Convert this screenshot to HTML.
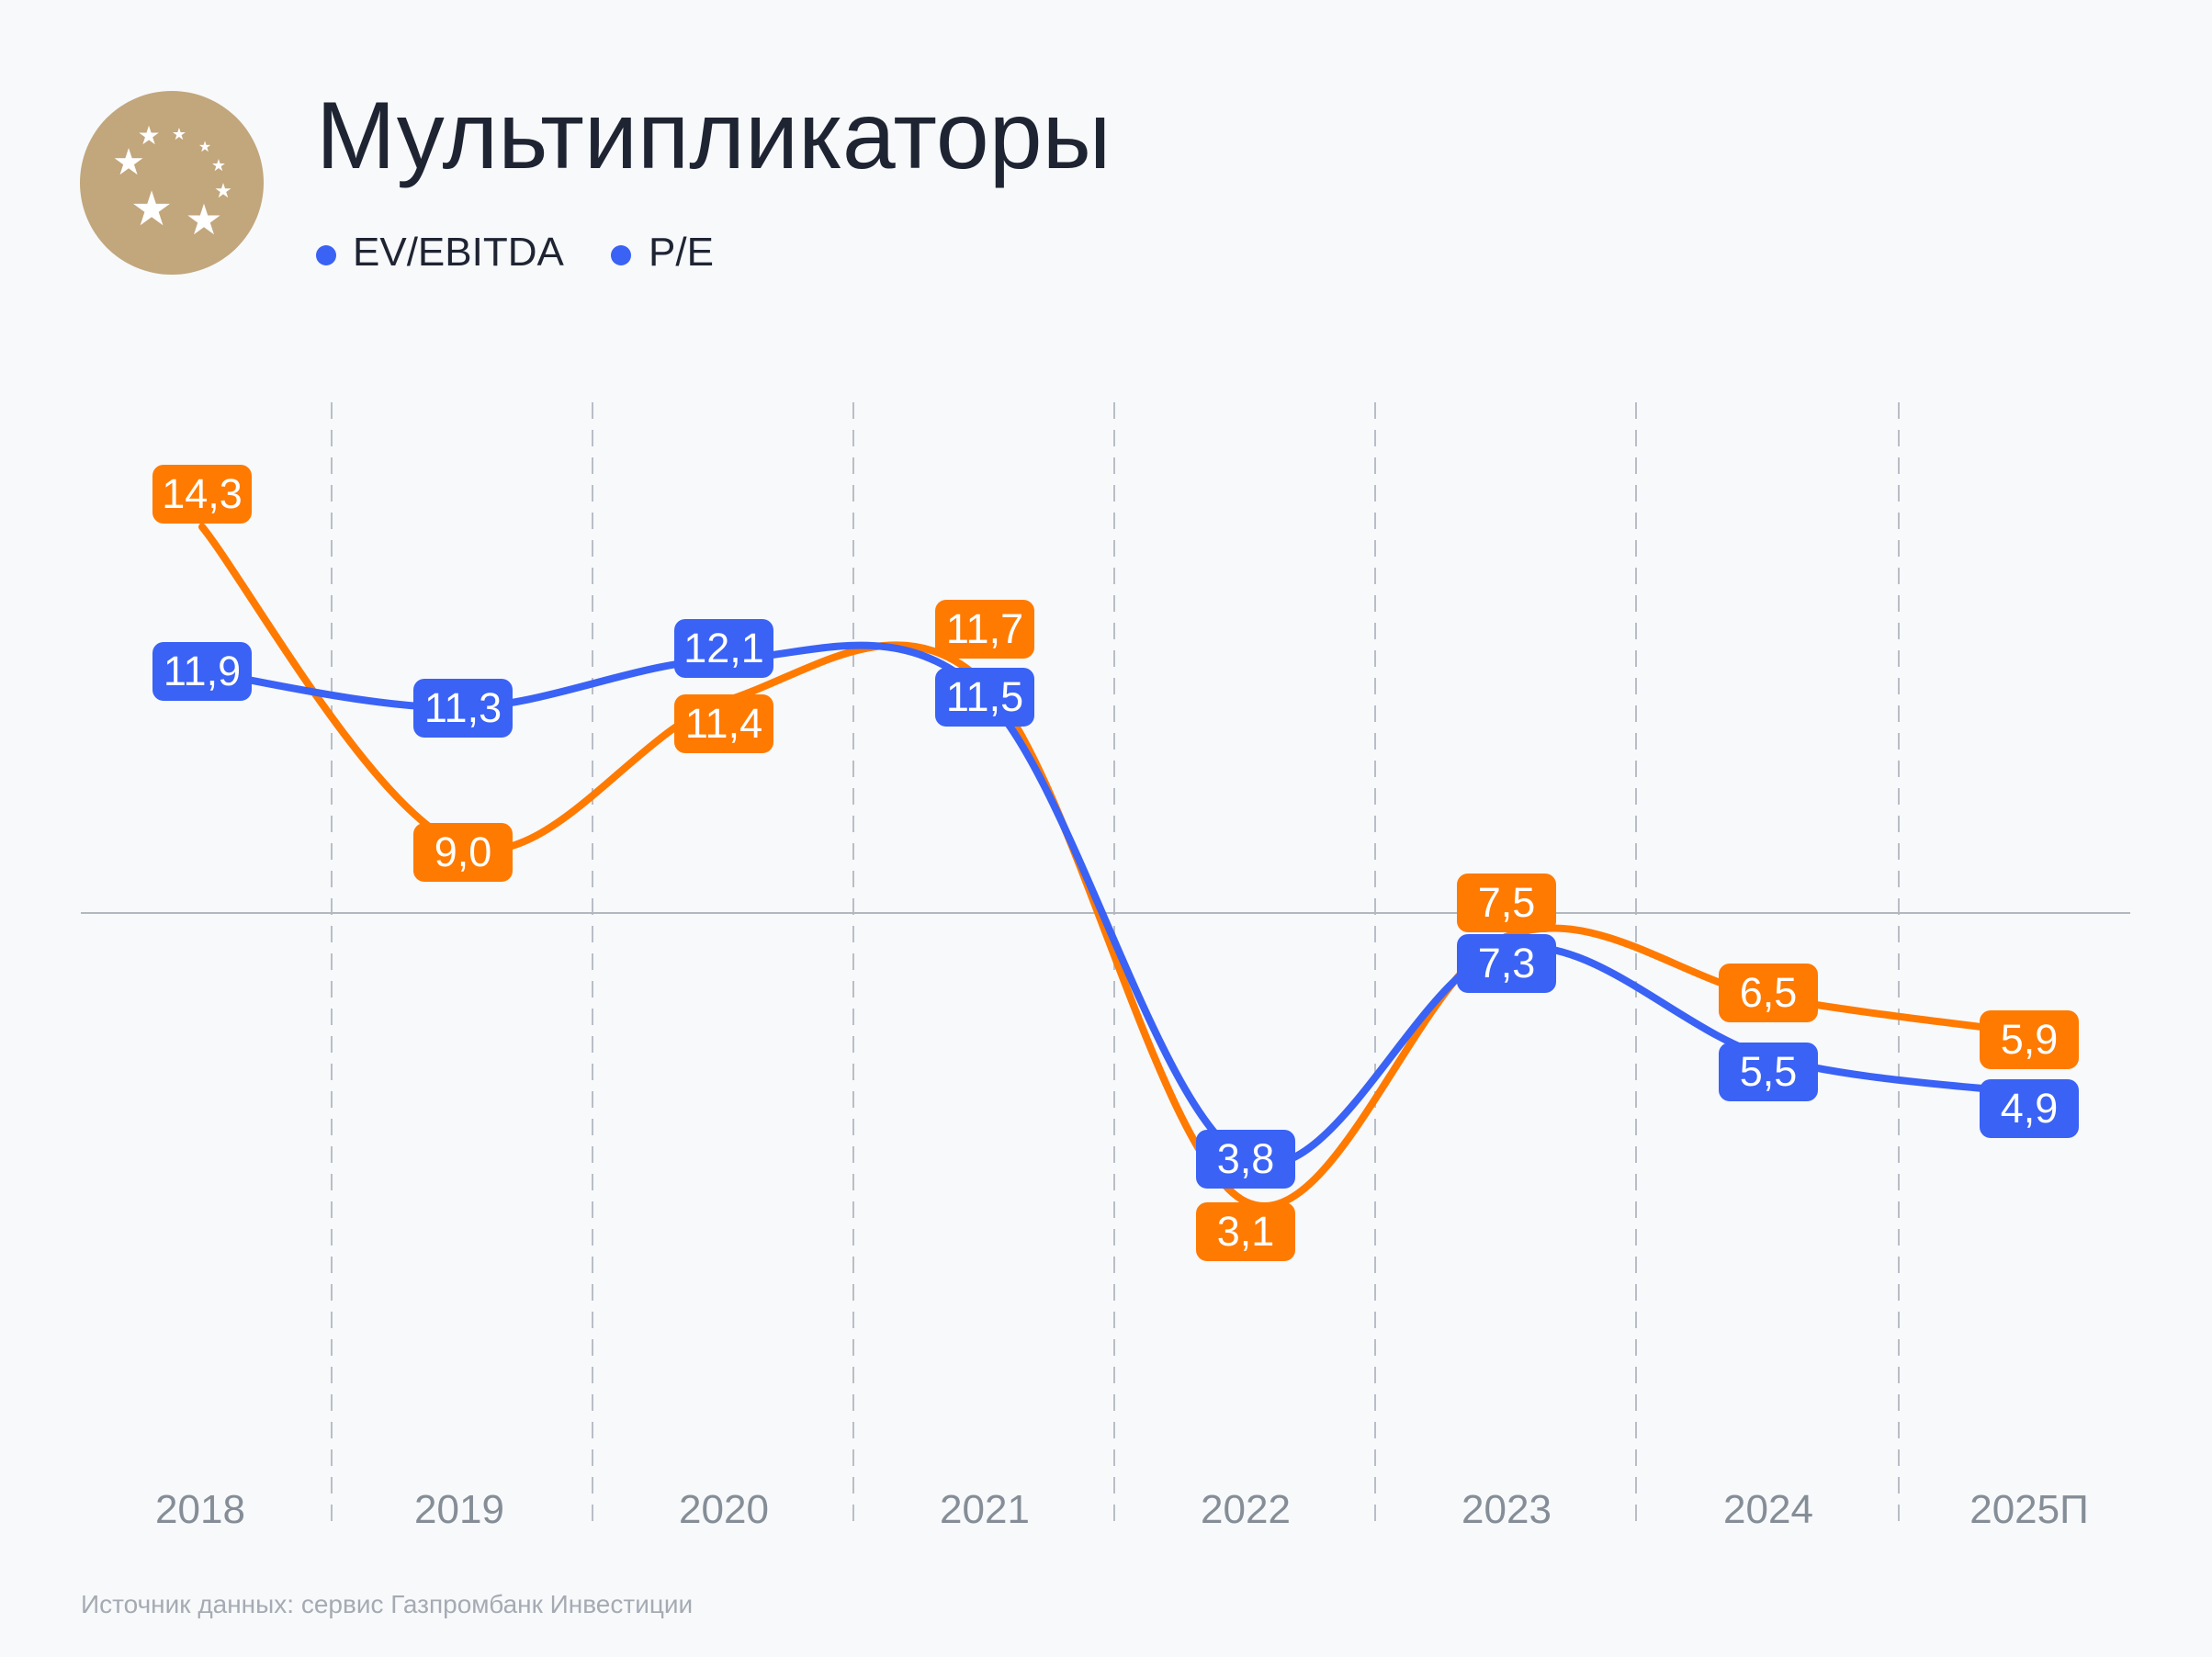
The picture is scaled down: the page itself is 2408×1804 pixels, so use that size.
<!DOCTYPE html>
<html><head><meta charset="utf-8">
<style>
html,body{margin:0;padding:0}
body{width:2408px;height:1804px;background:#f7f9fb;position:relative;overflow:hidden;font-family:"Liberation Sans","DejaVu Sans",sans-serif}
.t{position:absolute;left:344px;top:96px;font-size:104px;color:#1f2433;letter-spacing:0px;line-height:1}
.lg{position:absolute;top:253px;font-size:44px;color:#1f2433;line-height:1}
.dot{position:absolute;width:22px;height:22px;border-radius:50%;background:#3a62f5;top:267px}
.xl{position:absolute;top:1622px;width:200px;margin-left:-100px;text-align:center;font-size:44px;color:#858d97;line-height:1}
.src{position:absolute;left:88px;top:1733px;font-size:28px;color:#a6abb3;line-height:1}
.b{position:absolute;width:108px;height:64px;margin-left:-54px;margin-top:-32px;border-radius:12px;color:#fff;font-size:45px;line-height:64px;text-align:center}
.bl{background:#3a62f5}.or{background:#ff7a00}
</style></head><body>
<svg width="2408" height="1804" style="position:absolute;left:0;top:0">
<circle cx="187" cy="199" r="100" fill="#c2a67c"/>
<g fill="#fff" font-family="DejaVu Sans" text-anchor="middle">
<text x="162" y="157" font-size="28">★</text>
<text x="195" y="152" font-size="18">★</text>
<text x="223" y="165" font-size="16">★</text>
<text x="238" y="186" font-size="18">★</text>
<text x="243" y="215" font-size="22">★</text>
<text x="140" y="190" font-size="40">★</text>
<text x="165" y="245" font-size="52">★</text>
<text x="222" y="255" font-size="46">★</text>
</g>
<g stroke="#b9bec6" stroke-width="2" stroke-dasharray="18,12">
<line x1="361" y1="438" x2="361" y2="1660"/><line x1="645" y1="438" x2="645" y2="1660"/>
<line x1="929" y1="438" x2="929" y2="1660"/><line x1="1213" y1="438" x2="1213" y2="1660"/>
<line x1="1497" y1="438" x2="1497" y2="1660"/><line x1="1781" y1="438" x2="1781" y2="1660"/>
<line x1="2067" y1="438" x2="2067" y2="1660"/>
</g>
<line x1="88" y1="994" x2="2319" y2="994" stroke="#b3b8bf" stroke-width="2"/>
<path id="po" fill="none" stroke="#ff7a00" stroke-width="8" stroke-linecap="round"/>
<path id="pb" fill="none" stroke="#3a62f5" stroke-width="8" stroke-linecap="round"/>
</svg>
<script>
(function(){
var xs=[220,504,788,1072,1356,1640,1925,2209];
function y(v){return 731+(11.9-v)*65.6;}
function path(vals){
 var p=vals.map(function(v,i){return [xs[i],y(v)];});
 var d="M"+p[0][0]+","+p[0][1];
 for(var i=0;i<p.length-1;i++){
  var p0=p[i-1]||p[i],p1=p[i],p2=p[i+1],p3=p[i+2]||p[i+1];
  var c1=[p1[0]+(p2[0]-p0[0])/6,p1[1]+(p2[1]-p0[1])/6];
  var c2=[p2[0]-(p3[0]-p1[0])/6,p2[1]-(p3[1]-p1[1])/6];
  d+=" C"+c1+" "+c2+" "+p2;
 }
 return d;
}
document.getElementById("pb").setAttribute("d",path([11.9,11.3,12.1,11.5,3.8,7.3,5.5,4.9]));
document.getElementById("po").setAttribute("d",path([14.3,9.0,11.4,11.7,3.1,7.5,6.5,5.9]));
})();
</script>
<div class="t">Мультипликаторы</div>
<div class="dot" style="left:344px"></div>
<div class="lg" style="left:384px">EV/EBITDA</div>
<div class="dot" style="left:665px"></div>
<div class="lg" style="left:706px">P/E</div>

<div class="b or" style="left:220px;top:538px">14,3</div>
<div class="b or" style="left:504px;top:928px">9,0</div>
<div class="b or" style="left:788px;top:788px">11,4</div>
<div class="b or" style="left:1072px;top:685px">11,7</div>
<div class="b or" style="left:1356px;top:1341px">3,1</div>
<div class="b or" style="left:1640px;top:983px">7,5</div>
<div class="b or" style="left:1925px;top:1081px">6,5</div>
<div class="b or" style="left:2209px;top:1132px">5,9</div>

<div class="b bl" style="left:220px;top:731px">11,9</div>
<div class="b bl" style="left:504px;top:771px">11,3</div>
<div class="b bl" style="left:788px;top:706px">12,1</div>
<div class="b bl" style="left:1072px;top:759px">11,5</div>
<div class="b bl" style="left:1356px;top:1262px">3,8</div>
<div class="b bl" style="left:1640px;top:1049px">7,3</div>
<div class="b bl" style="left:1925px;top:1167px">5,5</div>
<div class="b bl" style="left:2209px;top:1207px">4,9</div>

<div class="xl" style="left:218px">2018</div>
<div class="xl" style="left:500px">2019</div>
<div class="xl" style="left:788px">2020</div>
<div class="xl" style="left:1072px">2021</div>
<div class="xl" style="left:1356px">2022</div>
<div class="xl" style="left:1640px">2023</div>
<div class="xl" style="left:1925px">2024</div>
<div class="xl" style="left:2209px">2025П</div>
<div class="src">Источник данных: сервис Газпромбанк Инвестиции</div>
</body></html>
